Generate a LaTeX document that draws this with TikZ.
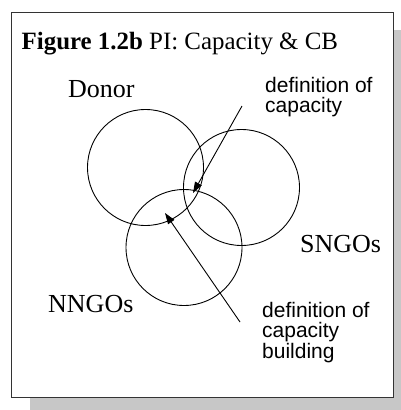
\documentclass[tikz,border=0pt]{standalone}
\usepackage{fontspec}
\setmainfont{Liberation Serif}
\newfontfamily\arialfont{Liberation Sans}
\usetikzlibrary{arrows.meta}
\begin{document}
\begin{tikzpicture}[x=1pt,y=-1pt,
  ring/.style={circle,draw=black,line width=0.9pt,inner sep=0pt,minimum size=116pt},
  setlabel/.style={anchor=base west,inner sep=0pt,font=\fontsize{26}{30}\selectfont},
  % multi-line notes: the base anchor sits on the last line's baseline
  note/.style={anchor=base west,inner sep=0pt,align=left,font=\arialfont\fontsize{21}{20.5}\selectfont},
  pointer/.style={line width=0.9pt,-{Triangle[length=11pt,width=7.5pt]}}]
  \useasboundingbox (0,0) rectangle (401,410);
  % drop shadow and frame
  \fill[black!22] (30,30) rectangle (420,420);
  \draw[fill=white,draw=black!80,line width=1pt] (11.5,12) rectangle (393,397);
  % title
  \node[anchor=base west,inner sep=0pt,font=\fontsize{24.9}{28}\selectfont] (title) at (21.5,49)
    {\textbf{Figure 1.2b} PI: Capacity \& CB};
  % the three actors
  \node[ring] (donor) at (145.5,167.5) {};
  \node[ring] (sngo) at (241.5,187.5) {};
  \node[ring] (nngo) at (184,247.5) {};
  \node[setlabel] (donorlbl) at (68,97) {Donor};
  \node[setlabel] (sngolbl) at (300,252) {SNGOs};
  \node[setlabel] (nngolbl) at (48,312) {NNGOs};
  % definitions
  \node[note] (defcap) at (265,112.5) {definition of\\capacity};
  \node[note] (defcb) at (262,358) {definition of\\capacity\\building};
  \coordinate (capfrom) at (242,106);
  \coordinate (capto) at (193,193);
  \coordinate (cbfrom) at (240,322);
  \coordinate (cbto) at (165,213);
  \draw[pointer] (capfrom) -- (capto);
  \draw[pointer] (cbfrom) -- (cbto);
\end{tikzpicture}
\end{document}
